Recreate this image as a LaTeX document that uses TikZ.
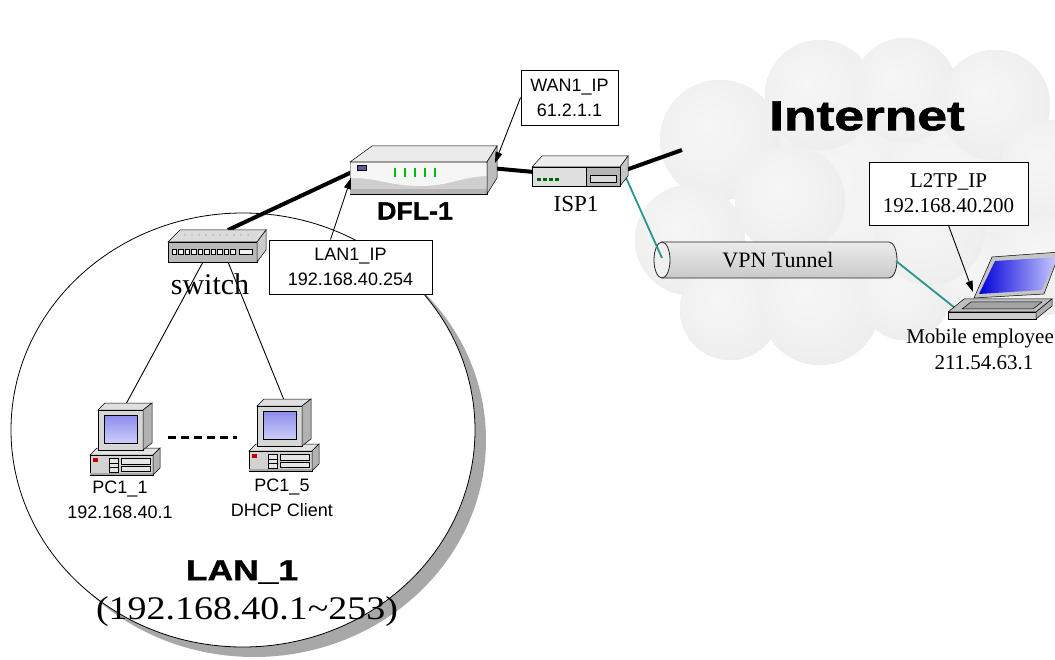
\documentclass[tikz,border=0pt]{standalone}
\usepackage{graphicx}
\usepackage{fontspec}
\setmainfont{Liberation Serif}
\setsansfont{Liberation Sans}
\newfontfamily\heavyfont{Liberation Sans}[BoldFeatures={FakeBold=1.3}]
\usetikzlibrary{arrows.meta}

\definecolor{vpnteal}{RGB}{40,150,140}
\definecolor{lanshadow}{RGB}{168,168,168}

% soft cloud lump: light centre, slightly darker rim
\pgfdeclareradialshading{puff}{\pgfpoint{-6bp}{6bp}}{%
  color(0bp)=(gray!7); color(24bp)=(gray!12); color(42bp)=(gray!20); color(50bp)=(gray!25)}

\tikzset{
  trunk/.style={line width=4pt},
  wire/.style={line width=0.9pt},
  vpnlink/.style={line width=1.8pt, draw=vpnteal},
  ptr/.style={line width=0.9pt, -{Triangle[length=11pt,width=7pt]}},
  ipbox/.style={draw, line width=0.9pt, fill=white, align=center, inner sep=0pt},
  sanslbl/.style={font=\sffamily\fontsize{18}{25}\selectfont, align=center, inner sep=0pt},
  seriflbl/.style={font=\fontsize{21}{25}\selectfont, align=center, inner sep=0pt},
  heavylbl/.style={inner sep=0pt},
  edge/.style={draw=black, line width=0.5pt},
  pics/desktop/.style={code={
    % system unit
    \filldraw[edge, fill=gray!22] (0,53)--(7,46)--(70,46)--(63,53)--cycle;
    \filldraw[edge, fill=gray!35] (0,53) rectangle (63,73);
    \filldraw[edge, fill=gray!60] (63,53)--(70,46)--(70,66)--(63,73)--cycle;
    \fill[red!75!black] (3,56) rectangle (8,60);
    \draw[edge, fill=gray!20] (19,56) rectangle (28,70);
    \draw[edge] (19,61)--(28,61) (19,65)--(28,65);
    \draw[edge, fill=gray!20] (31,56) rectangle (60,62);
    \draw[edge, fill=gray!20] (31,64) rectangle (60,69);
    \fill[gray!70] (0,71) rectangle (63,73);
    % monitor
    \filldraw[edge, fill=gray!25] (8,8)--(15,1)--(62,1)--(53,8)--cycle;
    \filldraw[edge, fill=gray!32] (8,8) rectangle (53,48);
    \filldraw[edge, fill=gray!60] (53,8)--(62,1)--(62,41)--(53,48)--cycle;
    \shade[top color={rgb,255:red,140;green,140;blue,235}, bottom color={rgb,255:red,205;green,205;blue,250}, draw=black, line width=0.5pt] (14,13) rectangle (47,41);
    \coordinate (-top) at (35,2);
  }}
}

\begin{document}
\begin{tikzpicture}[x=1pt, y=-1pt]
\useasboundingbox (0,0) rectangle (1055,660);
\fill[white] (0,0) rectangle (1055,660);

% ---------- Internet cloud ----------
\def\cloudlumps{
  850/200/100, 960/200/90,
  720/140/60, 820/95/55, 905/90/52, 995/105/55, 1050/170/50,
  690/240/55, 730/310/50, 820/305/60, 905/295/45, 975/275/45, 1045/265/50,
  790/200/55, 930/230/55}
\foreach \cx/\cy/\rr in \cloudlumps
  \fill[gray!21] (\cx,\cy) circle (\rr pt);
\foreach \cx/\cy/\rr in \cloudlumps
  \shade[shading=puff] (\cx,\cy) circle (\rr pt);

% ---------- LAN_1 area ----------
\fill[lanshadow] (254,440) ellipse (232pt and 217pt);
\filldraw[fill=white, draw=black, line width=0.8pt] (243,430) ellipse (232pt and 217pt);

% ---------- port coordinates ----------
\coordinate (sw-up) at (228,230);
\coordinate (sw-p1) at (203,262);
\coordinate (sw-p2) at (228,262);
\coordinate (rt-lan) at (352,172);
\coordinate (rt-wan) at (490,168);
\coordinate (isp-lan) at (534,172);
\coordinate (isp-wan) at (623,171);
\coordinate (inet-end) at (682,150);
\coordinate (tun-in) at (662,258);
\coordinate (tun-out) at (896,261);
\coordinate (lap-port) at (955,308);
\coordinate (rt-wanport) at (495,163);
\coordinate (rt-lanport) at (351,178);
\coordinate (lap-lid) at (973,292);

% ---------- trunk links ----------
\draw[trunk] (sw-up) -- (rt-lan);
\draw[trunk] (rt-wan) -- (isp-lan);
\draw[trunk] (isp-wan) -- (inet-end);

% ---------- VPN tunnel ----------
\node[inner sep=0pt, minimum width=236pt, minimum height=36pt] (tunnel) at (778,260) {};
\shade[top color=gray!15, bottom color=gray!42, draw=gray!30!black, line width=0.8pt]
  (662,242) -- (889,242) arc[start angle=90, end angle=-90, x radius=8pt, y radius=18pt] -- (662,278) -- cycle;
\filldraw[fill=gray!12, draw=gray!30!black, line width=0.8pt] (662,260) ellipse (8pt and 18pt);
\node[font=\fontsize{22}{24}\selectfont, inner sep=0pt] (vpnlbl) at (tunnel) {VPN Tunnel};

\draw[vpnlink] (isp-wan) -- (tun-in);
\draw[vpnlink] (tun-out) -- (lap-port);

% ---------- desktops ----------
\draw[wire] (sw-p1) -- (126,404);
\draw[wire] (sw-p2) -- (284,400);
\pic (pc1) at (90,402) {desktop};
\pic (pc5) at (249,398) {desktop};
\draw[line width=3pt, dash pattern=on 8pt off 5pt] (168,437) -- (237,437);

% ---------- switch ----------
\node[inner sep=0pt, minimum width=98pt, minimum height=32pt] (switch) at (217,246) {};
\filldraw[edge, fill=gray!28] (168,242)--(180,230)--(266,230)--(257,242)--cycle;
\filldraw[edge, fill=gray!55] (168,242) rectangle (257,262);
\filldraw[edge, fill=gray!40] (257,242)--(266,230)--(266,250)--(257,262)--cycle;
\foreach \i [evaluate=\i as \px using 172+6.5*\i] in {0,...,9}
  \filldraw[fill=gray!12, draw=black, line width=0.4pt] (\px,249) rectangle +(4.5,5);
\filldraw[fill=gray!10, draw=black, line width=0.4pt] (239,249) rectangle (252,254);
\foreach \i [evaluate=\i as \px using 185+7*\i] in {0,...,9}
  \fill[gray!65] (\px,235) circle (0.8pt);

% ---------- DFL-1 router ----------
\node[inner sep=0pt, minimum width=147pt, minimum height=48pt] (router) at (423,170) {};
\filldraw[edge, fill=gray!16] (350,162)--(372,146)--(497,146)--(487,162)--cycle;
\filldraw[edge, fill=gray!38] (350,162) rectangle (487,194);
\fill[gray!7] (350.3,162.3) -- (486.7,162.3) -- (486.7,176)
  .. controls (460,177) and (450,186) .. (420,186)
  .. controls (390,186) and (380,178) .. (350.3,178) -- cycle;
\fill[gray!58] (350.3,189) rectangle (486.7,193.7);
\filldraw[edge, fill=gray!52] (487,162)--(497,146)--(497,178)--(487,194)--cycle;
\filldraw[fill={rgb,255:red,90;green,90;blue,160}, draw=black, line width=0.4pt] (357,165) rectangle (366,170);
\foreach \lx in {395,405,415,425,435}
  \draw[green!75!black, line width=1.7pt] (\lx,168) -- (\lx,177);

% ---------- ISP1 ----------
\node[inner sep=0pt, minimum width=96pt, minimum height=30pt] (isp) at (580,171) {};
\filldraw[edge, fill=gray!14] (532,167)--(542,156)--(628,156)--(620,167)--cycle;
\filldraw[edge, fill=gray!25] (532,167) rectangle (620,186);
\filldraw[edge, fill=gray!45] (620,167)--(628,156)--(628,176)--(620,186)--cycle;
\filldraw[edge, fill=gray!58] (586,167) rectangle (620,186);
\filldraw[edge, fill=gray!30] (590,175) rectangle (616,182);
\foreach \dx in {537,543,549,555}
  \fill[green!40!black] (\dx,178) rectangle +(4,3);

% ---------- laptop ----------
\node[inner sep=0pt, minimum width=107pt, minimum height=66pt] (laptop) at (1001,286) {};
\filldraw[edge, fill=gray!45] (974,298)--(992,257)--(1060,252)--(1044,294)--cycle;
\shade[left color=blue!85!black, right color=blue!20!white] (979,294)--(995,261)--(1058,257)--(1042,290)--cycle;
\filldraw[edge, fill=gray!50] (948,312)--(964,299)--(1052,299)--(1036,312)--cycle;
\filldraw[edge, fill=gray!72] (962,309)--(971,302)--(1042,302)--(1033,309)--cycle;
\filldraw[edge, fill=gray!40] (948,312) rectangle (1036,319);
\filldraw[edge, fill=gray!62] (1036,312)--(1052,299)--(1052,306)--(1036,319)--cycle;

% ---------- address boxes ----------
\node[ipbox, sanslbl, draw, fill=white, line width=0.9pt, minimum width=97pt, minimum height=55pt] (wanbox) at (569.5,97.5) {WAN1\_IP\\61.2.1.1};
\node[ipbox, sanslbl, draw, fill=white, line width=0.9pt, minimum width=163pt, minimum height=54pt] (lanbox) at (350.5,267) {LAN1\_IP\\192.168.40.254};
\node[ipbox, seriflbl, draw, fill=white, line width=0.9pt, minimum width=159pt, minimum height=63pt] (l2tpbox) at (948.5,193.5) {L2TP\_IP\\192.168.40.200};

\draw[ptr] (wanbox.west) -- (rt-wanport);
\draw[ptr] ([xshift=-20pt]lanbox.north) -- (rt-lanport);
\draw[ptr] (l2tpbox.south) -- (lap-lid);

% ---------- labels ----------
\node[heavylbl, font=\heavyfont\bfseries\fontsize{25}{27}\selectfont] (dfllbl) at (415,211) {\scalebox{1.07}[1]{DFL-1}};
\node[seriflbl, font=\fontsize{23}{25}\selectfont] (isplbl) at (576,204) {ISP1};
\node[seriflbl, font=\fontsize{30}{32}\selectfont] (swlbl) at (210,284) {switch};
\node[sanslbl] (pc1lbl) at (120,500) {PC1\_1\\192.168.40.1};
\node[sanslbl] (pc5lbl) at (282,498) {PC1\_5\\DHCP Client};
\node[heavylbl, font=\heavyfont\bfseries\fontsize{29}{31}\selectfont] (lanlbl) at (242,572) {\scalebox{1.22}[1]{LAN\_1}};
\node[inner sep=0pt, font=\fontsize{33}{35}\selectfont] (rangelbl) at (247,612) {\scalebox{1.15}[1]{(192.168.40.1\textasciitilde 253)}};
\node[heavylbl, font=\heavyfont\bfseries\fontsize{42}{44}\selectfont] (inetlbl) at (867,116) {\scalebox{1.27}[1]{Internet}};
\node[seriflbl, anchor=east] (moblbl) at (1054,338) {Mobile employee};
\node[seriflbl] (mobip) at (984,363) {211.54.63.1};
\end{tikzpicture}
\end{document}
